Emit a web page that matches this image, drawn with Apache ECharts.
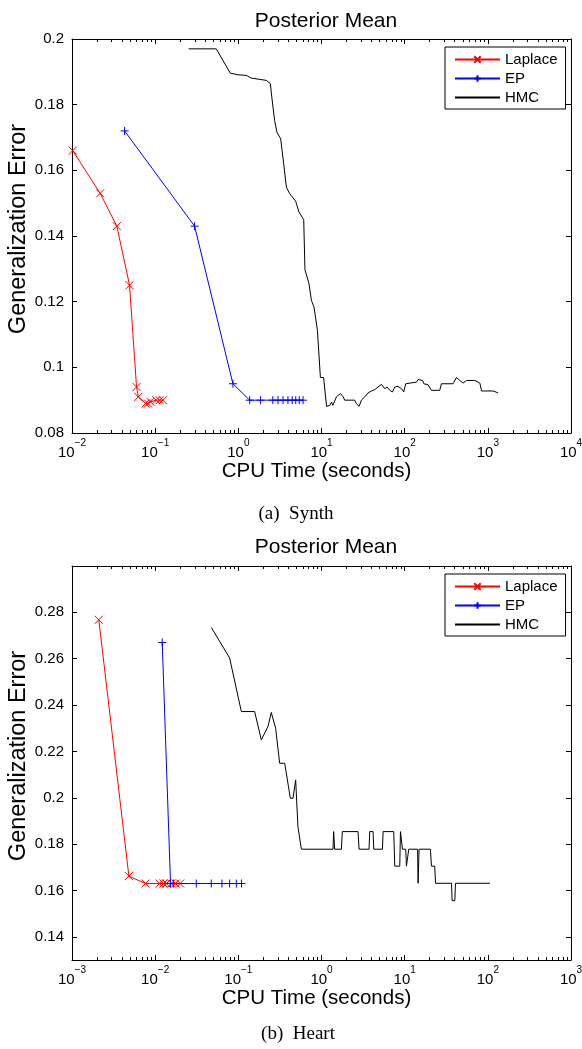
<!DOCTYPE html>
<html><head><meta charset="utf-8">
<script src="https://cdn.jsdelivr.net/npm/echarts@6/dist/echarts.min.js"></script>
<style>html,body{margin:0;padding:0;background:#fff}#c{width:582px;height:1049px}</style>
</head><body><div id="c"></div>
<script>
// ---------- DATA (x = CPU time in seconds, y = generalization error) ----------
const synthLaplace = [[0.0102,0.166],[0.0218,0.153],[0.0346,0.143],[0.0492,0.125],[0.0597,0.094],[0.0627,0.091],[0.0766,0.089],[0.0818,0.089],[0.088,0.0895],[0.103,0.090],[0.113,0.090],[0.124,0.090]];
const synthEP = [[0.0429,0.172],[0.298,0.143],[0.861,0.095],[1.37,0.090],[1.85,0.090],[2.6,0.090],[3.0,0.090],[3.45,0.090],[3.95,0.090],[4.45,0.090],[4.9,0.090],[5.4,0.090],[6.0,0.090]];
const synthHMC = [[0.252,0.197],[0.543,0.197],[0.80,0.1896],[0.99,0.1891],[1.25,0.1889],[1.43,0.1881],[1.80,0.1877],[2.17,0.1874],[2.43,0.1864],[2.50,0.1833],[2.73,0.1752],[2.91,0.1716],[3.23,0.1696],[3.51,0.1620],[3.78,0.1549],[4.14,0.1529],[4.89,0.1506],[5.36,0.1473],[6.11,0.1450],[6.33,0.1297],[7.07,0.1255],[7.56,0.1204],[8.12,0.1184],[8.93,0.1113],[9.70,0.0969],[10.6,0.0969],[11.5,0.0881],[12.6,0.0884],[13.2,0.0894],[13.7,0.0884],[15.1,0.0910],[16.9,0.0920],[18.2,0.0910],[19.0,0.0900],[25.1,0.0900],[26.3,0.0889],[28.3,0.0881],[30.2,0.0900],[33.1,0.0910],[36.3,0.0922],[39.9,0.0928],[43.6,0.0932],[47.8,0.0940],[52.6,0.0948],[57.7,0.0935],[61.4,0.0940],[66.2,0.0930],[71.3,0.0925],[76.0,0.0940],[83.3,0.0942],[91.5,0.0935],[97.5,0.0925],[103,0.0950],[139,0.0955],[145,0.0963],[164,0.0960],[170,0.0950],[191,0.0947],[210,0.0930],[264,0.0930],[277,0.0950],[382,0.0950],[420,0.0969],[460,0.0960],[504,0.0952],[554,0.0960],[698,0.0960],[802,0.0952],[840,0.0928],[1160,0.0928],[1214,0.0922],[1330,0.0922]];

const heartLaplace = [[0.0021,0.2768],[0.00483,0.1662],[0.00766,0.163],[0.0113,0.163],[0.0126,0.163],[0.0137,0.163],[0.0156,0.163],[0.0176,0.163],[0.0200,0.163]];
const heartEP = [[0.01216,0.267],[0.0153,0.163],[0.0165,0.163],[0.0312,0.163],[0.0473,0.163],[0.0635,0.163],[0.0786,0.163],[0.0946,0.163],[0.109,0.163]];
const heartHMC = [[0.0473,0.2735],[0.0786,0.2603],[0.1087,0.2372],[0.157,0.2372],[0.189,0.2250],[0.227,0.2307],[0.249,0.2368],[0.281,0.2300],[0.314,0.2149],[0.361,0.2149],[0.422,0.1998],[0.454,0.1998],[0.489,0.2077],[0.521,0.1875],[0.573,0.1778],[1.375,0.1778],[1.40,0.1854],[1.44,0.1778],[1.734,0.1778],[1.78,0.1854],[2.75,0.1854],[2.83,0.1778],[3.73,0.1778],[3.80,0.1854],[4.17,0.1854],[4.25,0.1778],[5.41,0.1778],[5.50,0.1854],[7.39,0.1854],[7.60,0.1705],[8.73,0.1705],[8.90,0.1854],[9.41,0.1778],[10.3,0.1778],[10.5,0.1705],[11.0,0.1705],[11.2,0.1778],[14.3,0.1778],[14.5,0.1631],[14.9,0.1778],[20.4,0.1778],[21.0,0.1705],[23.0,0.1705],[23.5,0.1631],[36.6,0.1631],[37.2,0.1556],[40.1,0.1556],[40.8,0.1631],[106,0.1631]];

const seriesNames = ['Laplace','EP','HMC'];
const titles = ['Posterior Mean','Posterior Mean'];
const captions = ['(a)  Synth','(b)  Heart'];
const xName = 'CPU Time (seconds)';
const yName = 'Generalization Error';
const synthXRange = [0.01, 10000];
const heartXRange = [0.001, 1000];
const synthYRange = [0.08, 0.2];
const heartYRange = [0.13, 0.30];
const heartYTicks = [0.14,0.16,0.18,0.2,0.22,0.24,0.26,0.28];

// ---------- helpers ----------
const SANS = '"Liberation Sans", Arial, Helvetica, sans-serif';
const SERIF = '"Liberation Serif", "Times New Roman", serif';
function majors(r){const a=[];for(let e=Math.round(Math.log10(r[0]));e<=Math.round(Math.log10(r[1]));e++)a.push(parseFloat(Math.pow(10,e).toPrecision(6)));return a;}
function minors(r){const a=[];for(let e=Math.round(Math.log10(r[0]));e<Math.round(Math.log10(r[1]));e++)for(let k=2;k<=9;k++)a.push(parseFloat((k*Math.pow(10,e)).toPrecision(6)));return a;}
function expLabel(v){const e=Math.round(Math.log10(v));return '{b|10}{s|'+(e<0?'\u2212'+(-e):String(e))+'}';}

const axLine = {show:true, lineStyle:{color:'#000', width:1}};
function xAxesFor(g, ov, r, named){
  const base = {type:'log', logBase:10, min:r[0], max:r[1], splitLine:{show:false}};
  return [
    Object.assign({}, base, {gridIndex:g, position:'bottom', axisLine:axLine,
      axisTick:{show:true, inside:true, length:5, customValues:majors(r), lineStyle:{color:'#000'}},
      axisLabel:{show:true, customValues:majors(r), formatter:expLabel, margin:5, color:'#000',
        rich:{b:{fontFamily:SANS, fontSize:15, color:'#000', verticalAlign:'bottom', lineHeight:22},
              s:{fontFamily:SANS, fontSize:10, color:'#000', verticalAlign:'top', lineHeight:22}}},
      name: named, nameLocation:'middle', nameGap:27,
      nameTextStyle:{fontFamily:SANS, fontSize:20.5, color:'#000', verticalAlign:'top', padding:[0,10,0,0]}}),
    Object.assign({}, base, {gridIndex:g, position:'top', axisLine:axLine,
      axisTick:{show:true, inside:true, length:5, customValues:majors(r), lineStyle:{color:'#000'}},
      axisLabel:{show:false}}),
    Object.assign({}, base, {gridIndex:ov, position:'bottom', axisLine:{show:false},
      axisTick:{show:true, inside:true, length:3, customValues:minors(r), lineStyle:{color:'#000'}},
      axisLabel:{show:false}}),
    Object.assign({}, base, {gridIndex:ov, position:'top', axisLine:{show:false},
      axisTick:{show:true, inside:true, length:3, customValues:minors(r), lineStyle:{color:'#000'}},
      axisLabel:{show:false}})
  ];
}
function yAxesFor(g, ov, r, ticks){
  const tick = ticks ? {customValues:ticks} : {};
  const base = {type:'value', min:r[0], max:r[1], splitLine:{show:false}};
  if(!ticks) base.interval = 0.02;
  return [
    Object.assign({}, base, {gridIndex:g, position:'left', axisLine:axLine,
      axisTick:Object.assign({show:true, inside:true, length:5, lineStyle:{color:'#000'}}, tick),
      axisLabel:Object.assign({show:true, fontFamily:SANS, fontSize:15, color:'#000', margin:8}, tick),
      name:yName, nameLocation:'middle', nameGap:41, nameRotate:90, nameMoveOverlap:false,
      nameTextStyle:{fontFamily:SANS, fontSize:23.5, color:'#000', padding:[0,0,0,14]}}),
    Object.assign({}, base, {gridIndex:g, position:'right', axisLine:axLine,
      axisTick:Object.assign({show:true, inside:true, length:5, lineStyle:{color:'#000'}}, tick),
      axisLabel:{show:false}}),
    Object.assign({}, base, {gridIndex:ov, show:false})
  ];
}
const xMark = 'path://M0,0L10,10M10,0L0,10';
const plusMark = 'path://M5,0L5,10M0,5L10,5';
function mkSeries(name, data, color, sym, xi, yi){
  const s = {name, type:'line', data, xAxisIndex:xi, yAxisIndex:yi, animation:false,
    lineStyle:{color, width:1}, itemStyle:{color, borderColor:color, borderWidth:1},
    emphasis:{disabled:true}, z:3};
  if(sym){ s.symbol = sym; s.symbolSize = 8; s.showSymbol = true; }
  else { s.symbol = 'circle'; s.symbolSize = 2; s.showSymbol = false; s.itemStyle = {color:'rgba(0,0,0,0)', borderColor:'rgba(0,0,0,0)', borderWidth:0}; }
  return s;
}
function legendAt(top){
  return {top, left:445, orient:'vertical', align:'left', itemWidth:45, itemHeight:8, itemGap:4,
    padding:[5,8,4,9], borderColor:'#000', borderWidth:1, backgroundColor:'#fff',
    textStyle:{fontFamily:SANS, fontSize:15, color:'#000'}, data:seriesNames, selectedMode:false};
}
const gridBase = {left:72, width:499, height:394, show:false, outerBoundsMode:'none', containLabel:false};

const option = {
  animation:false,
  backgroundColor:'#fff',
  title:[
    {text:titles[0], left:321, top:6, textAlign:'center', textStyle:{fontFamily:SANS, fontSize:21, fontWeight:'normal', color:'#000'}},
    {text:titles[1], left:321, top:532, textAlign:'center', textStyle:{fontFamily:SANS, fontSize:21, fontWeight:'normal', color:'#000'}},
    {text:captions[0], left:291, top:500, textAlign:'center', textStyle:{fontFamily:SERIF, fontSize:19, fontWeight:'normal', color:'#000'}},
    {text:captions[1], left:293, top:1020, textAlign:'center', textStyle:{fontFamily:SERIF, fontSize:19, fontWeight:'normal', color:'#000'}}
  ],
  legend:[legendAt(47), legendAt(574)],
  grid:[
    Object.assign({}, gridBase, {top:39}),
    Object.assign({}, gridBase, {top:39}),
    Object.assign({}, gridBase, {top:566}),
    Object.assign({}, gridBase, {top:566})
  ],
  xAxis:[].concat(xAxesFor(0,1,synthXRange,xName), xAxesFor(2,3,heartXRange,xName)),
  yAxis:[].concat(yAxesFor(0,1,synthYRange,null), yAxesFor(2,3,heartYRange,heartYTicks)),
  series:[
    mkSeries('Laplace', synthLaplace, '#ff0000', xMark, 0, 0),
    mkSeries('EP', synthEP, '#0000ff', plusMark, 0, 0),
    mkSeries('HMC', synthHMC, '#000000', null, 0, 0),
    mkSeries('Laplace', heartLaplace, '#ff0000', xMark, 4, 3),
    mkSeries('EP', heartEP, '#0000ff', plusMark, 4, 3),
    mkSeries('HMC', heartHMC, '#000000', null, 4, 3)
  ]
};
const chart = echarts.init(document.getElementById('c'), null, {renderer:'canvas'});
chart.setOption(option);
</script></body></html>
